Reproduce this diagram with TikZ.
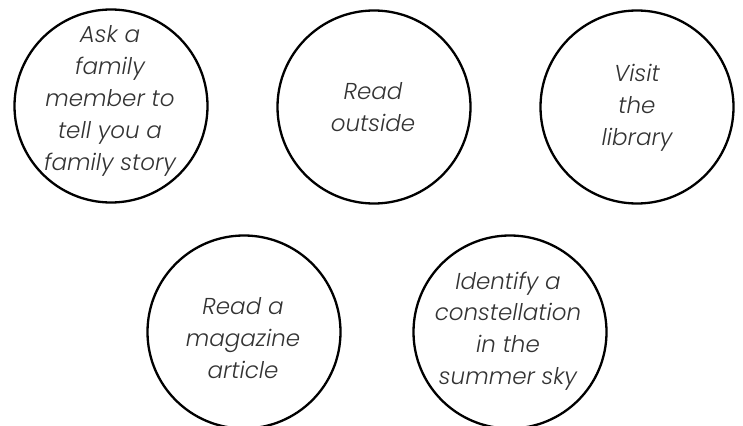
\documentclass[tikz,border=0pt]{standalone}
\usepackage{fontspec}
\setmainfont{Poppins}[UprightFont=* Light,ItalicFont=* Light Italic]
\begin{document}
\begin{tikzpicture}[x=1pt,y=-1pt,
  ring/.style={draw=black,line width=2.3pt,circle,minimum size=193pt,inner sep=0pt},
  lbl/.style={align=center,text=black!80,font=\fontsize{23}{31.8}\selectfont\itshape}]
\useasboundingbox (0,0) rectangle (743,425);
\node[ring] (c1) at (111,106) {};
\node[ring] (c2) at (374,107) {};
\node[ring] (c3) at (637,107) {};
\node[ring] (c4) at (244,332) {};
\node[ring] (c5) at (510,332) {};
\node[lbl] (t1) at (110,101) {Ask a\\family\\member to\\tell you a\\family story};
\node[lbl] (t2) at (373,107) {Read\\outside};
\node[lbl] (t3) at (637,108) {Visit\\the\\library};
\node[lbl] (t4) at (243,338) {Read a\\magazine\\article};
\node[lbl] (t5) at (508,331) {Identify a\\constellation\\in the\\summer sky};
\end{tikzpicture}
\end{document}
